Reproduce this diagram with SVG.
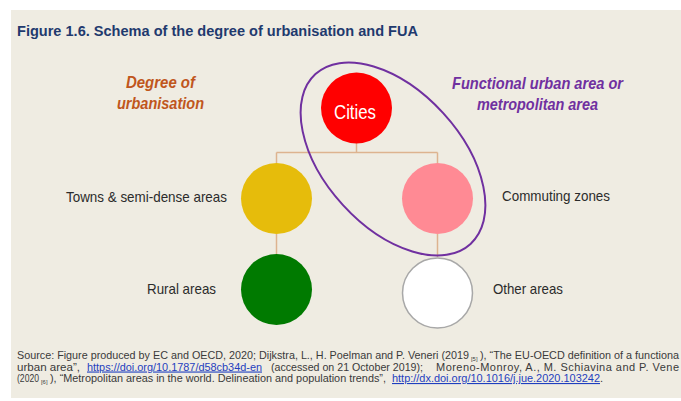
<svg xmlns="http://www.w3.org/2000/svg" width="681" height="401" viewBox="0 0 681 401">
<style>
.bg{fill:#efece2}
.title{font-family:"Liberation Sans",Arial,sans-serif;font-weight:bold;font-size:14px;fill:#1f3a6e}
.head{font-family:"Liberation Sans",Arial,sans-serif;font-weight:bold;font-style:italic;font-size:17px;text-anchor:start}
.du{fill:#c0561c}
.fua{fill:#7030a0}
.lbl{font-family:"Liberation Sans",Arial,sans-serif;font-size:15px;fill:#2b2b2b}
.src{font-family:"Liberation Sans",Arial,sans-serif;font-size:11px;fill:#3a3a3a}
.sub{font-size:6px}
.lnk{font-family:"Liberation Sans",Arial,sans-serif;font-size:11px;fill:#1f3fbf;text-decoration:underline}
.conn{stroke:#ddb38f;stroke-width:1.5;fill:none}
</style>
<rect class="bg" x="11" y="10" width="670" height="388"/>
<text class="title" x="17" y="36" textLength="401" lengthAdjust="spacingAndGlyphs">Figure 1.6. Schema of the degree of urbanisation and FUA</text>

<g id="heading-degree">
<text class="head du" x="126" y="88" textLength="69" lengthAdjust="spacingAndGlyphs">Degree of</text>
<text class="head du" x="117" y="109" textLength="87" lengthAdjust="spacingAndGlyphs">urbanisation</text>
</g>
<g id="heading-fua">
<text class="head fua" x="452" y="89" textLength="171" lengthAdjust="spacingAndGlyphs">Functional urban area or</text>
<text class="head fua" x="477" y="110" textLength="121" lengthAdjust="spacingAndGlyphs">metropolitan area</text>
</g>

<g id="connectors">
<path class="conn" d="M356.5 143 V152.5 M276.5 152.5 H437.5 M276.5 152.5 V163 M437.5 152.5 V163 M276.5 234 V254 M437.5 234 V257"/>
</g>

<g id="node-cities">
<circle cx="356.5" cy="108" r="35.5" fill="#ff0000"/>
<text x="334" y="119" font-family="Liberation Sans, Arial, sans-serif" font-size="20" fill="#ffffff" textLength="42" lengthAdjust="spacingAndGlyphs">Cities</text>
</g>
<g id="node-towns">
<circle cx="276.5" cy="198.5" r="35.5" fill="#e6bc0b"/>
<text class="lbl" x="66" y="202" textLength="161" lengthAdjust="spacingAndGlyphs">Towns &amp; semi-dense areas</text>
</g>
<g id="node-commuting">
<circle cx="437.5" cy="198.5" r="35.5" fill="#ff8a94"/>
<text class="lbl" x="502" y="201" textLength="108" lengthAdjust="spacingAndGlyphs">Commuting zones</text>
</g>
<g id="node-rural">
<circle cx="276.5" cy="289.5" r="35.5" fill="#007a00"/>
<text class="lbl" x="147" y="294" textLength="69" lengthAdjust="spacingAndGlyphs">Rural areas</text>
</g>
<g id="node-other">
<circle cx="437.5" cy="293" r="35" fill="#ffffff" stroke="#a8a8a8" stroke-width="1.5"/>
<text class="lbl" x="493" y="294" textLength="70" lengthAdjust="spacingAndGlyphs">Other areas</text>
</g>

<g id="fua-outline">
<ellipse cx="393" cy="159" rx="115" ry="68" transform="rotate(47.6 393 159)" fill="none" stroke="#7030a0" stroke-width="2"/>
</g>

<g id="source">
<text class="src" y="359"><tspan x="17" textLength="452" lengthAdjust="spacingAndGlyphs">Source: Figure produced by EC and OECD, 2020; Dijkstra, L., H. Poelman and P. Veneri (2019</tspan><tspan class="sub" x="471" dy="2" textLength="6.5" lengthAdjust="spacingAndGlyphs">[5]</tspan><tspan x="480" dy="-2" textLength="199" lengthAdjust="spacingAndGlyphs">), “The EU-OECD definition of a functiona</tspan></text>

<text class="src" x="17" y="370.5" textLength="63" lengthAdjust="spacingAndGlyphs">urban area”,</text>
<text class="lnk" x="87" y="370.5" textLength="175" lengthAdjust="spacingAndGlyphs">https://doi.org/10.1787/d58cb34d-en</text>
<text class="src" x="271" y="370.5" textLength="152" lengthAdjust="spacingAndGlyphs">(accessed on 21 October 2019);</text>
<text class="src" x="436" y="370.5" textLength="243" lengthAdjust="spacing">Moreno-Monroy, A., M. Schiavina and P. Vene</text>

<text class="src" y="382"><tspan x="17" textLength="22" lengthAdjust="spacingAndGlyphs">(2020</tspan><tspan class="sub" x="41" dy="2" textLength="6.5" lengthAdjust="spacingAndGlyphs">[6]</tspan><tspan x="50" dy="-2" textLength="336" lengthAdjust="spacingAndGlyphs">), “Metropolitan areas in the world. Delineation and population trends”,</tspan></text>
<text class="lnk" x="392" y="382" textLength="208" lengthAdjust="spacingAndGlyphs">http://dx.doi.org/10.1016/j.jue.2020.103242</text>
<text class="src" x="600" y="382">.</text>
</g>
</svg>
